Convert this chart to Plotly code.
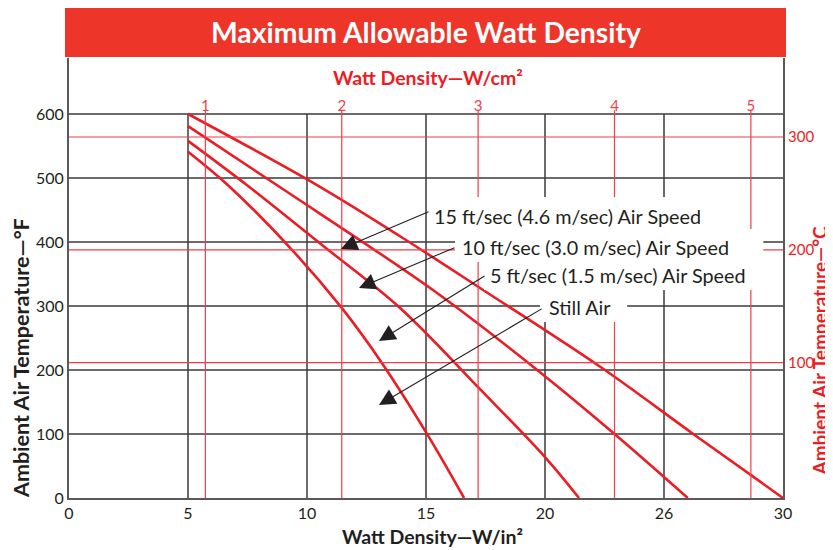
import plotly.graph_objects as go

# ---------------- data ----------------
labels = ["15 ft/sec (4.6 m/sec) Air Speed", "10 ft/sec (3.0 m/sec) Air Speed",
          "5 ft/sec (1.5 m/sec) Air Speed", "Still Air"]

air15_x = [5, 10.42, 13.91, 17.40, 22.32, 26.23, 30]
air15_f = [600, 489, 409, 325, 205, 100, 0]
air10_x = [5, 8.73, 15.29, 19.37, 22.86, 26.0]
air10_f = [581, 489, 325, 209, 102, 0]
air5_x = [5, 7.47, 10.54, 13.91, 17.27, 20.0, 21.43]
air5_f = [558, 489, 398, 297, 170, 64, 0]
still_x = [5, 6.67, 9.29, 11.46, 13.11, 15.03, 16.6]
still_f = [541, 489, 391, 297, 213, 101, 0]

x_ticks = [0, 5, 10, 15, 20, 25, 30]
x_ticktext = ["0", "5", "10", "15", "20", "26", "30"]
f_ticks = [0, 100, 200, 300, 400, 500, 600]
c_ticks = [100, 200, 300]
wcm_ticks = [1, 2, 3, 4, 5]
WIN_PER_WCM = 5.73   # spacing of the W/cm2 scale as drawn
F_TOP = 687.5        # top of frame in deg F
RED_V_TOP = 606

FONT = "Lato"
DARK = "#231F20"
RED = "#EC1C24"
RED_GRID = "#EF3E4A"
GRID = "#3A3A3A"
FRAME = "#5A5A5A"

OFF = 8  # page body margin

fig = go.Figure()

# black grid
gx, gy = [], []
for f in f_ticks[1:]:
    gx += [0, 30, None]; gy += [f, f, None]
for x in x_ticks[1:-1]:
    gx += [x, x, None]; gy += [0, 600, None]
fig.add_trace(go.Scatter(x=gx, y=gy, mode="lines", line=dict(color=GRID, width=1.5),
                         hoverinfo="skip", showlegend=False))
# red grid (deg C horizontal)
rx, ry = [], []
for c in c_ticks:
    rx += [0, 30, None]; ry += [c, c, None]
fig.add_trace(go.Scatter(x=rx, y=ry, yaxis="y2", mode="lines", line=dict(color=RED_GRID, width=1.2),
                         hoverinfo="skip", showlegend=False))
# red grid (W/cm2 vertical)
vx, vy = [], []
for w in wcm_ticks:
    vx += [w, w, None]; vy += [0, RED_V_TOP, None]
fig.add_trace(go.Scatter(x=vx, y=vy, xaxis="x2", mode="lines", line=dict(color=RED_GRID, width=1.2),
                         hoverinfo="skip", showlegend=False))

def px2x(p):
    return (p - 69.3) / 23.78

def px2f(p):
    return (498 - p) / 0.64

# white label backgrounds (cover grid lines)
boxes = [(428, 725, 197, 229), (455, 763, 229, 262), (484, 760, 262, 290), (540, 627, 290, 322)]
for (a, b, t, u) in boxes:
    fig.add_shape(type="rect", xref="x", yref="y", x0=px2x(a), x1=px2x(b), y0=px2f(u), y1=px2f(t),
                  fillcolor="white", line=dict(width=0), layer="above")

# curves
for xs, fs, name in [(air15_x, air15_f, labels[0]), (air10_x, air10_f, labels[1]),
                     (air5_x, air5_f, labels[2]), (still_x, still_f, labels[3])]:
    fig.add_trace(go.Scatter(x=xs, y=fs, mode="lines", name=name,
                             line=dict(color=RED, width=2.6, shape="spline", smoothing=1.0),
                             showlegend=False))

ann = []
arrows = [((430, 211), (341, 249)), ((456, 247), (359, 288)),
          ((486, 275), (379, 341)), ((543, 308), (379, 405))]
for (tx, ty), (hx, hy) in arrows:
    ann.append(dict(x=px2x(hx), y=px2f(hy), ax=px2x(tx), ay=px2f(ty), xref="x", yref="y",
                    axref="x", ayref="y", text="", showarrow=True, arrowhead=2, arrowsize=3,
                    arrowwidth=1.1, arrowcolor=DARK))
label_pos = [(431.7, 216), (460, 247), (487.7, 275), (546.7, 307)]
for (lx, ly), t in zip(label_pos, labels):
    ann.append(dict(x=px2x(lx), y=px2f(ly), xref="x", yref="y", text=t, showarrow=False,
                    xanchor="left", yanchor="middle", font=dict(family=FONT, size=19.8, color=DARK)))

PW, PH = 714, 440
def pxp(p):
    return (p - 69) / PW

def pyp(p):
    return (498 - p) / PH

ann += [
    dict(x=pxp(426), y=pyp(32), xref="paper", yref="paper", text="<b>Maximum Allowable Watt Density</b>",
         showarrow=False, xanchor="center", yanchor="middle", font=dict(family=FONT, size=28.3, color="white")),
    dict(x=pxp(432), y=pyp(536), xref="paper", yref="paper", text="<b>Watt Density—W/in²</b>",
         showarrow=False, xanchor="center", yanchor="middle", font=dict(family=FONT, size=19.5, color=DARK)),
    dict(x=pxp(428), y=pyp(77), xref="paper", yref="paper", text="<b>Watt Density—W/cm²</b>",
         showarrow=False, xanchor="center", yanchor="middle", font=dict(family=FONT, size=19.5, color=RED)),
    dict(x=pxp(21), y=pyp(358), xref="paper", yref="paper", text="<b>Ambient Air Temperature—°F</b>",
         showarrow=False, xanchor="center", yanchor="middle", textangle=-90,
         font=dict(family=FONT, size=21.5, color=DARK)),
    dict(x=pxp(818.5), y=pyp(351), xref="paper", yref="paper", text="<b>Ambient Air Temperature—°C</b>",
         showarrow=False, xanchor="center", yanchor="middle", textangle=-90,
         font=dict(family=FONT, size=19, color=RED)),
]

fig.add_shape(type="rect", xref="paper", yref="paper", x0=pxp(65), x1=pxp(786), y0=pyp(57), y1=pyp(7),
              fillcolor="#EE3529", line=dict(width=0), layer="above")

c_lo, c_hi = -19.89, 370.0

fig.update_layout(
    width=833 - OFF, height=550 - OFF, margin=dict(l=69 - OFF, r=50, t=58 - OFF, b=52),
    paper_bgcolor="white", plot_bgcolor="white", showlegend=False,
    font=dict(family=FONT, color=DARK),
    annotations=ann,
    xaxis=dict(range=[0, 30], tickvals=x_ticks, ticktext=x_ticktext, showgrid=False, zeroline=False,
               showline=True, linecolor=FRAME, linewidth=2, ticks="",
               tickfont=dict(family=FONT, size=16, color=DARK)),
    yaxis=dict(range=[0, F_TOP], tickvals=f_ticks, showgrid=False, zeroline=False,
               showline=True, linecolor=FRAME, linewidth=2, ticks="",
               tickfont=dict(family=FONT, size=16, color=DARK)),
    yaxis2=dict(range=[c_lo, c_hi], overlaying="y", side="right", tickvals=c_ticks, showgrid=False,
                zeroline=False, showline=True, linecolor=FRAME, linewidth=2, ticks="",
                tickfont=dict(family=FONT, size=15, color=RED)),
    xaxis2=dict(range=[0, 30 / WIN_PER_WCM], overlaying="x", side="top", anchor="free",
                position=pyp(114), tickvals=wcm_ticks, showgrid=False, zeroline=False, showline=False,
                ticks="", tickfont=dict(family=FONT, size=15, color=RED_GRID)),
)

fig.write_html("out.html")
